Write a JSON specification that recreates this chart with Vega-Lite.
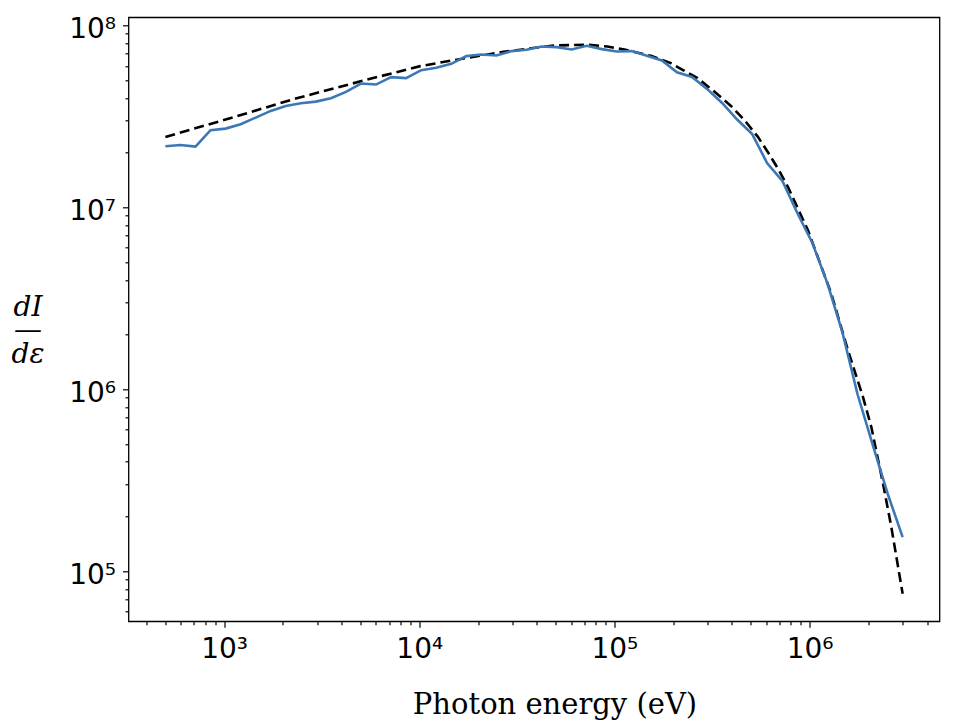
{
  "$schema": "https://vega.github.io/schema/vega-lite/v6.json",
  "description": "Photon spectrum dI/de: simulated (blue) vs analytic (dashed)",
  "width": 811,
  "height": 604,
  "autosize": {"type": "none"},
  "padding": {"left": 128.5, "top": 17.3, "right": 24, "bottom": 104},
  "background": "white",
  "config": {
    "view": {"stroke": "#000000", "strokeWidth": 1.3},
    "axis": {
      "domain": false,
      "grid": false,
      "labelFont": "DejaVu Sans",
      "labelFontSize": 28,
      "labelColor": "#000000",
      "tickColor": "#000000",
      "tickWidth": 1.2,
      "labelOverlap": false,
      "labelFlush": false,
      "labelBound": false
    }
  },
  "datasets": {
    "simulated": [
      {"energy": 500, "intensity": 21690000},
      {"energy": 597.1, "intensity": 22050000},
      {"energy": 713.3, "intensity": 21580000},
      {"energy": 851.9, "intensity": 26570000},
      {"energy": 1017, "intensity": 27110000},
      {"energy": 1215, "intensity": 28670000},
      {"energy": 1451, "intensity": 31170000},
      {"energy": 1733, "intensity": 33920000},
      {"energy": 2070, "intensity": 36140000},
      {"energy": 2472, "intensity": 37400000},
      {"energy": 2952, "intensity": 38160000},
      {"energy": 3526, "intensity": 39840000},
      {"energy": 4211, "intensity": 43160000},
      {"energy": 5029, "intensity": 47950000},
      {"energy": 6006, "intensity": 47350000},
      {"energy": 7173, "intensity": 52000000},
      {"energy": 8561, "intensity": 51350000},
      {"energy": 10227, "intensity": 56820000},
      {"energy": 12217, "intensity": 58510000},
      {"energy": 14591, "intensity": 61550000},
      {"energy": 17426, "intensity": 67860000},
      {"energy": 20813, "intensity": 69250000},
      {"energy": 24857, "intensity": 68380000},
      {"energy": 29687, "intensity": 72290000},
      {"energy": 35456, "intensity": 73500000},
      {"energy": 42345, "intensity": 76630000},
      {"energy": 50573, "intensity": 76050000},
      {"energy": 60400, "intensity": 73770000},
      {"energy": 72137, "intensity": 77330000},
      {"energy": 86154, "intensity": 74140000},
      {"energy": 102830, "intensity": 71930000},
      {"energy": 122790, "intensity": 72290000},
      {"energy": 146670, "intensity": 68120000},
      {"energy": 175160, "intensity": 64190000},
      {"energy": 209200, "intensity": 55260000},
      {"energy": 249850, "intensity": 52070000},
      {"energy": 298400, "intensity": 44830000},
      {"energy": 356380, "intensity": 37500000},
      {"energy": 425630, "intensity": 30400000},
      {"energy": 508330, "intensity": 25300000},
      {"energy": 607090, "intensity": 17480000},
      {"energy": 725060, "intensity": 14000000},
      {"energy": 865940, "intensity": 9316000},
      {"energy": 1034200, "intensity": 6371000},
      {"energy": 1235200, "intensity": 3822000},
      {"energy": 1475200, "intensity": 2049000},
      {"energy": 1761900, "intensity": 939700},
      {"energy": 2104200, "intensity": 498600},
      {"energy": 2513100, "intensity": 267000},
      {"energy": 3000000, "intensity": 154100}
    ],
    "analytic": [
      {"energy": 500, "intensity": 24410000},
      {"energy": 1017, "intensity": 30390000},
      {"energy": 2326, "intensity": 39650000},
      {"energy": 5115, "intensity": 49630000},
      {"energy": 10118, "intensity": 59780000},
      {"energy": 14430, "intensity": 63930000},
      {"energy": 27010, "intensity": 71660000},
      {"energy": 48780, "intensity": 77620000},
      {"energy": 72940, "intensity": 78320000},
      {"energy": 92050, "intensity": 76630000},
      {"energy": 114300, "intensity": 73500000},
      {"energy": 153600, "intensity": 68120000},
      {"energy": 194600, "intensity": 62110000},
      {"energy": 223500, "intensity": 57040000},
      {"energy": 266900, "intensity": 51350000},
      {"energy": 324900, "intensity": 43340000},
      {"energy": 395700, "intensity": 36140000},
      {"energy": 463000, "intensity": 30270000},
      {"energy": 542700, "intensity": 24490000},
      {"energy": 610700, "intensity": 20180000},
      {"energy": 687600, "intensity": 16410000},
      {"energy": 773600, "intensity": 13000000},
      {"energy": 980200, "intensity": 7510000},
      {"energy": 1291000, "intensity": 3368000},
      {"energy": 1573000, "intensity": 1641000},
      {"energy": 1878000, "intensity": 908500},
      {"energy": 2073000, "intensity": 621100},
      {"energy": 2380000, "intensity": 303100},
      {"energy": 2625000, "intensity": 174800},
      {"energy": 3000000, "intensity": 75200}
    ]
  },
  "encoding": {
    "x": {
      "field": "energy",
      "type": "quantitative",
      "scale": {"type": "log", "domain": [323.6, 4634000], "nice": false},
      "axis": {
        "title": "Photon energy (eV)",
        "titleFont": "DejaVu Serif",
        "titleFontSize": 29,
        "titleFontWeight": "normal",
        "titleColor": "#000000",
        "titleAlign": "center",
        "titleBaseline": "alphabetic",
        "titleX": 426,
        "titleY": 92.5,
        "values": [400, 500, 600, 700, 800, 900, 1000, 2000, 3000, 4000, 5000, 6000, 7000, 8000, 9000, 10000, 20000, 30000, 40000, 50000, 60000, 70000, 80000, 90000, 100000, 200000, 300000, 400000, 500000, 600000, 700000, 800000, 900000, 1000000, 2000000, 3000000, 4000000],
        "labelExpr": "abs(log(datum.value)/LN10 - round(log(datum.value)/LN10)) < 1e-6 ? '10' + ['⁰','¹','²','³','⁴','⁵','⁶','⁷','⁸','⁹'][round(log(datum.value)/LN10)] : ''",
        "labelPadding": 8,
        "tickSize": {"condition": {"test": "abs(log(datum.value)/LN10 - round(log(datum.value)/LN10)) < 1e-6", "value": 6}, "value": 3.5}
      }
    },
    "y": {
      "field": "intensity",
      "type": "quantitative",
      "scale": {"type": "log", "domain": [53100, 110900000], "nice": false},
      "axis": {
        "title": ["dI", "—", "dε"],
        "titleFont": "DejaVu Serif",
        "titleFontStyle": "italic",
        "titleFontSize": 28,
        "titleFontWeight": "normal",
        "titleColor": "#000000",
        "titleAngle": 0,
        "titleAlign": "center",
        "titleBaseline": "alphabetic",
        "titleLineHeight": 23.5,
        "titleX": -101,
        "titleY": 298,
        "values": [60000, 70000, 80000, 90000, 100000, 200000, 300000, 400000, 500000, 600000, 700000, 800000, 900000, 1000000, 2000000, 3000000, 4000000, 5000000, 6000000, 7000000, 8000000, 9000000, 10000000, 20000000, 30000000, 40000000, 50000000, 60000000, 70000000, 80000000, 90000000, 100000000],
        "labelExpr": "abs(log(datum.value)/LN10 - round(log(datum.value)/LN10)) < 1e-6 ? '10' + ['⁰','¹','²','³','⁴','⁵','⁶','⁷','⁸','⁹'][round(log(datum.value)/LN10)] : ''",
        "labelPadding": 7,
        "labelOffset": 4,
        "tickSize": {"condition": {"test": "abs(log(datum.value)/LN10 - round(log(datum.value)/LN10)) < 1e-6", "value": 6}, "value": 3.5}
      }
    }
  },
  "layer": [
    {
      "data": {"name": "analytic"},
      "mark": {"type": "line", "color": "#000000", "strokeWidth": 2.6, "strokeDash": [10, 5], "clip": true}
    },
    {
      "data": {"name": "simulated"},
      "mark": {"type": "line", "color": "#3b78b5", "strokeWidth": 2.6, "clip": true}
    }
  ]
}
